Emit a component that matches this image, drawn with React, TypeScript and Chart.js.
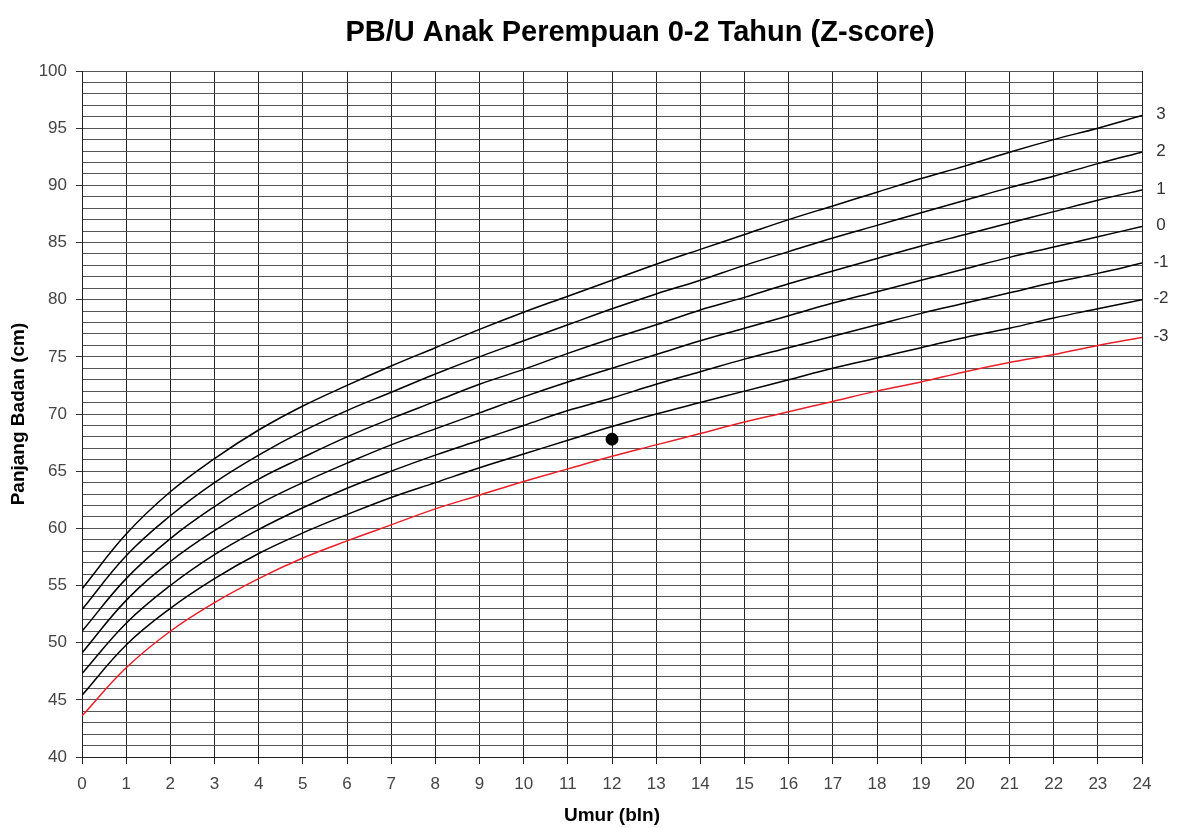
import React, { useEffect, useRef } from "react";
import { Chart, registerables } from "chart.js";

Chart.register(...registerables);

const months = [0, 1, 2, 3, 4, 5, 6, 7, 8, 9, 10, 11, 12, 13, 14, 15, 16, 17, 18, 19, 20, 21, 22, 23, 24];

const sdNeg3 = [43.6, 47.8, 51.0, 53.5, 55.6, 57.4, 58.9, 60.3, 61.7, 62.9, 64.1, 65.2, 66.3, 67.3, 68.3, 69.3, 70.2, 71.1, 72.0, 72.8, 73.7, 74.5, 75.2, 76.0, 76.7];
const sdNeg2 = [45.4, 49.8, 53.0, 55.6, 57.8, 59.6, 61.2, 62.7, 64.0, 65.3, 66.5, 67.7, 68.9, 70.0, 71.0, 72.0, 73.0, 74.0, 74.9, 75.8, 76.7, 77.5, 78.4, 79.2, 80.0];
const sdNeg1 = [47.3, 51.7, 55.0, 57.7, 59.9, 61.8, 63.5, 65.0, 66.4, 67.7, 69.0, 70.3, 71.4, 72.6, 73.7, 74.8, 75.8, 76.8, 77.8, 78.8, 79.7, 80.6, 81.5, 82.3, 83.2];
const sd0 = [49.1, 53.7, 57.1, 59.8, 62.1, 64.0, 65.7, 67.3, 68.7, 70.1, 71.5, 72.8, 74.0, 75.2, 76.4, 77.5, 78.6, 79.7, 80.7, 81.7, 82.7, 83.7, 84.6, 85.5, 86.4];
const sdPos1 = [51.0, 55.6, 59.1, 61.9, 64.3, 66.2, 68.0, 69.6, 71.1, 72.6, 73.9, 75.3, 76.6, 77.8, 79.1, 80.2, 81.4, 82.5, 83.6, 84.7, 85.7, 86.7, 87.7, 88.7, 89.6];
const sdPos2 = [52.9, 57.6, 61.1, 64.0, 66.4, 68.5, 70.3, 71.9, 73.5, 75.0, 76.4, 77.8, 79.2, 80.5, 81.7, 83.0, 84.2, 85.4, 86.5, 87.6, 88.7, 89.8, 90.8, 91.9, 92.9];
const sdPos3 = [54.7, 59.5, 63.2, 66.1, 68.6, 70.7, 72.5, 74.2, 75.8, 77.4, 78.9, 80.3, 81.7, 83.1, 84.4, 85.7, 87.0, 88.2, 89.4, 90.6, 91.7, 92.9, 94.0, 95.0, 96.1];

const zLabels = ["3", "2", "1", "0", "-1", "-2", "-3"];
const childAge = [12];
const childLength = [67.8];

const TITLE = "PB/U Anak Perempuan 0-2 Tahun (Z-score)";
const FONT = "'Liberation Sans', Arial, sans-serif";

export default function App() {
  const ref = useRef<HTMLCanvasElement | null>(null);

  useEffect(() => {
    document.body.style.margin = "0";
    const canvas = ref.current;
    if (!canvas) return;

    const series = [sdPos3, sdPos2, sdPos1, sd0, sdNeg1, sdNeg2, sdNeg3];
    const datasets: any[] = series.map((s, i) => ({
      type: "line",
      label: zLabels[i],
      data: months.map((m, j) => ({ x: m, y: s[j] })),
      borderColor: zLabels[i] === "-3" ? "#e8202a" : "#000000",
      borderWidth: 1.5,
      pointRadius: 0,
      tension: 0.4,
      fill: false,
      zLabel: zLabels[i],
    }));
    datasets.push({
      type: "scatter",
      label: "Anak",
      data: childAge.map((a, i) => ({ x: a, y: childLength[i] })),
      backgroundColor: "#000000",
      borderColor: "#000000",
      pointRadius: 6,
      pointHoverRadius: 6,
    });

    const labelPlugin = {
      id: "zlabels",
      afterDatasetsDraw(chart: any) {
        const { ctx, chartArea, scales } = chart;
        ctx.save();
        ctx.font = `17px ${FONT}`;
        ctx.fillStyle = "#333";
        ctx.textAlign = "center";
        ctx.textBaseline = "middle";
        chart.data.datasets.forEach((ds: any) => {
          if (!ds.zLabel) return;
          const last = ds.data[ds.data.length - 1];
          ctx.fillText(ds.zLabel, chartArea.right + 19, scales.y.getPixelForValue(last.y) - 1);
        });
        ctx.font = `bold 29px ${FONT}`;
        ctx.fillStyle = "#000";
        ctx.textBaseline = "alphabetic";
        ctx.fillText(TITLE, (chartArea.left + chartArea.right) / 2 + 28, 41);
        ctx.restore();
      },
    };

    const chart = new Chart(canvas, {
      type: "line",
      data: { datasets },
      plugins: [labelPlugin],
      options: {
        animation: false,
        responsive: false,
        events: [],
        layout: { padding: { top: 71, right: 38, left: 0, bottom: 0 } },
        plugins: {
          legend: { display: false },
          title: { display: false },
          tooltip: { enabled: false },
        },
        scales: {
          x: {
            type: "linear",
            min: 0,
            max: 24,
            afterFit: (s: any) => {
              s.height = 71;
            },
            ticks: {
              stepSize: 1,
              autoSkip: false,
              maxRotation: 0,
              color: "#444",
              font: { family: FONT, size: 17 },
              padding: 10,
            },
            grid: { color: "#222", lineWidth: 1, tickLength: 7, tickColor: "#222" },
            border: { color: "#222", width: 1 },
            title: {
              display: true,
              text: "Umur (bln)",
              color: "#000",
              font: { family: FONT, size: 19, weight: "bold" },
              padding: { top: 4, bottom: 1 },
            },
          },
          y: {
            type: "linear",
            min: 40,
            max: 100,
            afterFit: (s: any) => {
              s.width = 82;
            },
            ticks: {
              stepSize: 1,
              autoSkip: false,
              color: "#444",
              font: { family: FONT, size: 17 },
              padding: 9,
              callback: (v: any) => (Number(v) % 5 === 0 ? String(v) : ""),
            },
            grid: {
              color: "#555",
              lineWidth: 1,
              tickLength: 6,
              tickColor: (c: any) => (c.tick && c.tick.value % 5 === 0 ? "#333" : "rgba(0,0,0,0)"),
            },
            border: { color: "#222", width: 1 },
            title: {
              display: true,
              text: "Panjang Badan (cm)",
              color: "#000",
              font: { family: FONT, size: 19, weight: "bold" },
              padding: { top: 7, bottom: 4 },
            },
          },
        },
      } as any,
    });

    return () => chart.destroy();
  }, []);

  return <canvas ref={ref} width={1180} height={828} style={{ display: "block" }} />;
}
